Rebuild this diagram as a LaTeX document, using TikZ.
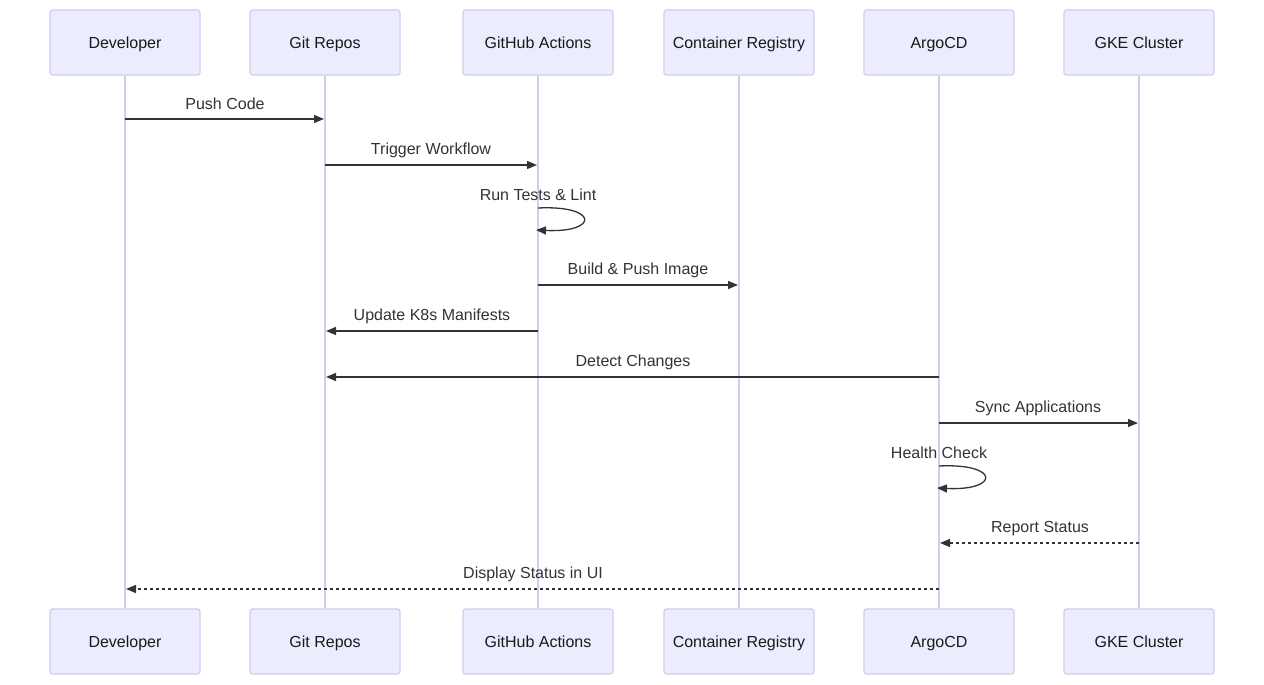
\documentclass[tikz,border=0pt]{standalone}
\usepackage{fontspec}
\setmainfont{Liberation Sans}
\usetikzlibrary{arrows.meta}
\definecolor{actfill}{HTML}{ECECFF}
\definecolor{actline}{HTML}{D2CDEB}
\definecolor{life}{HTML}{D2CDEB}
\definecolor{msg}{HTML}{333333}
\tikzset{
  actor/.style={draw=actline, line width=1.2pt, fill=actfill, rounded corners=2.5pt,
    minimum width=150pt, minimum height=65pt, inner sep=0pt, font=\fontsize{16}{19}\selectfont,
    text=black!90, text height=13pt, text depth=1pt},
  lifeline/.style={draw=life, line width=1.5pt},
  msgline/.style={draw=msg, line width=1.3pt, -{Triangle[length=10pt,width=8pt]}},
  replyline/.style={msgline, dash pattern=on 3pt off 3pt},
  msglabel/.style={font=\fontsize{16}{19}\selectfont, text=msg, inner sep=0pt,
    text height=12.5pt, text depth=2.5pt}
}
\begin{document}
\begin{tikzpicture}[x=1pt,y=-1pt]
\path[use as bounding box] (0,0) rectangle (1264,685);
% top actors
\node[actor] (t1) at (125,42.5) {Developer};
\node[actor] (t2) at (325,42.5) {Git Repos};
\node[actor] (t3) at (538,42.5) {GitHub Actions};
\node[actor] (t4) at (739,42.5) {Container Registry};
\node[actor] (t5) at (939,42.5) {ArgoCD};
\node[actor] (t6) at (1139,42.5) {GKE Cluster};
% bottom actors
\node[actor] (b1) at (125,641.5) {Developer};
\node[actor] (b2) at (325,641.5) {Git Repos};
\node[actor] (b3) at (538,641.5) {GitHub Actions};
\node[actor] (b4) at (739,641.5) {Container Registry};
\node[actor] (b5) at (939,641.5) {ArgoCD};
\node[actor] (b6) at (1139,641.5) {GKE Cluster};
% lifelines
\foreach \i in {1,...,6} { \draw[lifeline] (t\i.south) -- (b\i.north); }
% messages
\draw[msgline] (t1 |- 0,119) -- ([xshift=-1pt]t2 |- 0,119);
\node[msglabel] (l1) at (225,105) {Push Code};
\draw[msgline] (t2 |- 0,165) -- ([xshift=-1pt]t3 |- 0,165);
\node[msglabel] (l2) at (431,149) {Trigger Workflow};
\coordinate (s1a) at (t3 |- 0,208);
\coordinate (s1b) at ([xshift=-2pt]t3 |- 0,230);
\draw[msgline] (s1a) .. controls (599,205) and (599,233) .. (s1b);
\node[msglabel] (l3) at (538,195) {Run Tests \& Lint};
\draw[msgline] (t3 |- 0,285) -- ([xshift=-1pt]t4 |- 0,285);
\node[msglabel] (l4) at (638,269) {Build \& Push Image};
\draw[msgline] (t3 |- 0,331) -- ([xshift=1pt]t2 |- 0,331);
\node[msglabel] (l5) at (432,315) {Update K8s Manifests};
\draw[msgline] (t5 |- 0,377) -- ([xshift=1pt]t2 |- 0,377);
\node[msglabel] (l6) at (633,361) {Detect Changes};
\draw[msgline] (t5 |- 0,423) -- ([xshift=-1pt]t6 |- 0,423);
\node[msglabel] (l7) at (1038,407) {Sync Applications};
\coordinate (s2a) at (t5 |- 0,466);
\coordinate (s2b) at ([xshift=-2pt]t5 |- 0,488);
\draw[msgline] (s2a) .. controls (1000,463) and (1000,491) .. (s2b);
\node[msglabel] (l8) at (939,453) {Health Check};
\draw[replyline] (t6 |- 0,543) -- ([xshift=1pt]t5 |- 0,543);
\node[msglabel] (l9) at (1040,527) {Report Status};
\draw[replyline] (t5 |- 0,589) -- ([xshift=1pt]t1 |- 0,589);
\node[msglabel] (l10) at (533,573) {Display Status in UI};
\end{tikzpicture}
\end{document}
